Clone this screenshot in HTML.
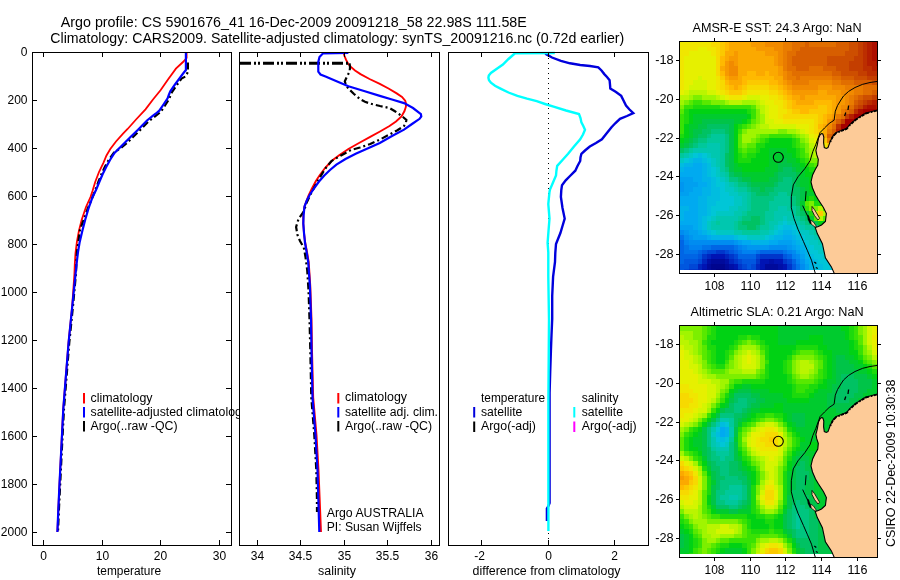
<!DOCTYPE html>
<html lang="en"><head><meta charset="utf-8"><title>Argo profile CS 5901676_41</title>
<style>
html,body{margin:0;padding:0;background:#fff;}
body{width:900px;height:580px;overflow:hidden;}
svg{display:block;font-family:"Liberation Sans", sans-serif;fill:#000;}
</style></head><body>
<svg width="900" height="580" viewBox="0 0 900 580">
<rect width="900" height="580" fill="#fff"/>
<text x="60.8" y="27" font-size="14.8" text-anchor="start" textLength="466" lengthAdjust="spacingAndGlyphs">Argo profile: CS 5901676_41 16-Dec-2009 20091218_58 22.98S 111.58E</text>
<text x="50.3" y="43" font-size="14.8" text-anchor="start" textLength="574" lengthAdjust="spacingAndGlyphs">Climatology: CARS2009. Satellite-adjusted climatology: synTS_20091216.nc (0.72d earlier)</text>
<rect x="32" y="52" width="199" height="493" fill="#fff" stroke="none"/>
<polyline points="186.6,52.0 186.6,58.0 183.0,62.0 175.9,68.6 168.0,79.5 160.7,90.0 153.0,99.5 145.5,109.3 136.5,119.0 127.6,129.0 122.8,133.8 116.0,141.5 110.3,149.0 106.5,155.5 103.4,162.8 99.0,172.0 95.2,182.0 92.5,191.0 90.5,197.0 86.0,207.0 81.7,219.8 78.9,231.0 76.9,241.9 75.5,253.0 74.8,264.0 74.4,274.3 72.2,306.0 68.5,342.5 65.6,378.7 63.2,409.0 61.3,447.0 59.5,484.0 58.4,508.0 57.4,532.0" fill="none" stroke="#f00" stroke-width="1.8"/>
<polyline points="187.9,62.4 187.9,72.0 185.5,76.5 181.5,78.5 176.5,85.5 171.8,92.4 170.3,96.0 169.0,99.3 165.0,105.5 160.8,111.7 157.5,114.5 153.9,117.2 148.5,121.5 139.5,130.7 132.5,137.5 127.0,143.0 121.0,148.0 114.0,152.5 109.0,159.5 105.0,166.5 101.5,174.0 98.5,181.5 95.5,189.5 92.6,197.0 88.0,208.0 84.0,219.0 80.0,229.5 78.5,241.0 77.0,252.0 76.5,261.2 75.9,274.3 73.0,306.0 69.3,342.5 66.4,378.7 64.0,409.0 62.0,447.0 60.2,484.0 59.0,508.0 58.0,532.0" fill="none" stroke="#000" stroke-width="2.2" stroke-dasharray="7 3 2 3"/>
<polyline points="185.9,52.0 185.9,70.0 183.5,73.0 180.0,77.6 175.0,84.5 170.3,91.4 168.8,95.0 167.6,98.3 163.5,104.5 159.3,110.7 156.0,113.5 152.4,116.2 147.0,120.5 138.0,129.7 131.0,136.5 125.5,142.0 120.0,147.5 114.5,153.0 110.0,160.0 106.2,167.0 102.5,174.5 99.3,182.0 96.0,190.0 92.6,197.0 88.5,208.5 85.2,219.8 82.3,231.0 79.7,241.9 78.0,252.0 76.9,261.2 75.5,274.3 72.3,306.0 68.6,342.5 65.7,378.7 63.3,409.0 61.4,447.0 59.5,484.0 58.4,508.0 57.4,532.0" fill="none" stroke="#00f" stroke-width="2.2"/>
<rect x="83" y="393" width="2" height="10.5" fill="#f00"/>
<rect x="83" y="407" width="2" height="10.5" fill="#00f"/>
<rect x="83" y="421" width="2" height="10.5" fill="#000"/>
<text x="90.5" y="401.5" font-size="12" text-anchor="start" textLength="62" lengthAdjust="spacingAndGlyphs">climatology</text>
<text x="90.5" y="416" font-size="12" text-anchor="start" textLength="157.5" lengthAdjust="spacingAndGlyphs">satellite-adjusted climatology</text>
<text x="90.5" y="430" font-size="12" text-anchor="start" textLength="87" lengthAdjust="spacingAndGlyphs">Argo(..raw -QC)</text>
<rect x="239" y="52" width="200" height="493" fill="#fff" stroke="none"/>
<polyline points="343.6,53.0 344.5,56.0 346.0,59.7 348.0,63.5 350.9,66.9 355.0,70.5 360.5,74.1 369.5,79.0 379.8,83.8 388.5,88.5 396.7,93.4 402.0,97.0 405.2,100.7 406.0,103.5 405.9,106.7 404.5,111.0 401.5,116.4 396.0,121.5 389.5,126.0 380.0,131.5 370.2,136.9 359.0,143.0 348.4,149.0 339.5,155.0 331.5,161.0 325.0,168.0 319.5,175.5 315.9,181.0 311.8,188.8 308.5,195.5 304.5,206.6 303.3,215.0 303.3,223.5 304.0,233.0 305.2,242.8 307.0,252.0 308.7,262.0 310.3,286.0 311.5,319.0 312.0,350.0 313.2,397.5 316.5,435.0 318.5,470.0 319.6,497.0 321.0,532.0" fill="none" stroke="#f00" stroke-width="1.9"/>
<polyline points="349.6,63.3 350.0,67.5 349.6,71.7 347.0,76.5 344.8,81.4 346.0,85.0 348.4,88.6 354.0,94.0 360.5,99.5 365.0,101.8 370.2,103.6 380.0,106.0 389.5,108.0 394.5,111.0 399.0,114.0 403.0,117.0 406.4,120.0 405.8,123.0 404.0,126.0 397.0,130.5 389.5,134.5 380.0,139.5 370.2,144.0 360.0,147.5 350.9,150.0 341.0,155.5 331.5,161.0 325.0,169.0 319.5,178.0 315.0,186.0 310.5,194.5 306.5,203.0 303.8,211.4 298.5,219.0 296.1,227.0 297.5,235.0 300.0,241.0 303.8,247.6 305.5,257.0 307.2,270.0 308.5,290.0 309.5,319.0 310.3,350.0 311.3,397.5 314.3,435.0 316.3,470.0 316.9,497.0 317.0,512.0" fill="none" stroke="#000" stroke-width="2.2" stroke-dasharray="7 3 2 3"/>
<path d="M240.0 63.3H349.6" fill="none" stroke="#000" stroke-width="3" stroke-dasharray="11 3 2 2 2 3"/>
<polyline points="348.4,53.0 323.1,53.3 319.5,57.0 318.3,62.0 318.3,71.7 320.5,74.5 325.5,76.5 336.0,81.0 348.4,86.2 364.0,91.0 379.8,95.9 392.0,99.5 404.0,103.1 413.0,108.0 420.9,114.0 421.3,116.5 419.6,118.8 412.0,124.0 404.0,129.6 392.0,136.0 379.8,142.9 367.5,148.5 355.7,153.8 345.5,159.0 336.4,164.6 330.0,170.0 324.3,175.5 319.0,181.5 314.6,187.6 309.9,194.5 306.8,200.5 304.5,206.6 303.6,215.0 303.3,223.5 304.0,233.0 305.0,242.8 306.6,252.0 308.2,262.0 309.9,286.0 311.0,319.0 311.5,350.0 312.5,397.5 315.5,435.0 317.5,470.0 318.3,497.0 319.3,532.0" fill="none" stroke="#00f" stroke-width="2.2"/>
<rect x="337.3" y="393" width="2" height="10.5" fill="#f00"/>
<rect x="337.3" y="407" width="2" height="10.5" fill="#00f"/>
<rect x="337.3" y="421" width="2" height="10.5" fill="#000"/>
<text x="345" y="401" font-size="12" text-anchor="start" textLength="62" lengthAdjust="spacingAndGlyphs">climatology</text>
<text x="345" y="415.6" font-size="12" text-anchor="start" textLength="93" lengthAdjust="spacingAndGlyphs">satellite adj. clim.</text>
<text x="345" y="429.5" font-size="12" text-anchor="start" textLength="87" lengthAdjust="spacingAndGlyphs">Argo(..raw -QC)</text>
<text x="326.7" y="516.5" font-size="12" text-anchor="start" textLength="97" lengthAdjust="spacingAndGlyphs">Argo AUSTRALIA</text>
<text x="326.7" y="530.5" font-size="12" text-anchor="start" textLength="95" lengthAdjust="spacingAndGlyphs">PI: Susan Wijffels</text>
<rect x="448" y="52" width="200" height="493" fill="#fff" stroke="none"/>
<path d="M548.3 53V545" fill="none" stroke="#000" stroke-width="1" stroke-dasharray="1 4" shape-rendering="crispEdges"/>
<polyline points="545.2,53.6 552.0,57.5 560.9,60.9 570.0,63.3 580.2,65.0 590.0,66.0 598.3,67.4 601.5,70.5 604.3,74.1 607.0,77.0 609.6,80.2 610.0,84.5 610.3,88.6 616.0,92.0 621.2,95.9 623.5,100.5 626.0,105.5 629.5,109.5 633.3,113.2 627.0,116.0 620.0,118.8 615.5,123.0 611.5,127.2 606.5,133.5 601.9,139.3 596.0,143.0 589.8,146.5 585.0,150.5 581.4,153.8 580.5,157.5 580.2,161.0 577.5,166.0 575.3,170.7 570.0,176.0 565.7,180.3 562.0,185.2 561.3,190.0 560.9,196.9 562.5,208.0 564.7,218.6 562.5,226.0 560.4,233.0 558.0,239.0 556.0,244.0 555.3,253.0 555.0,262.0 553.1,276.6 552.2,296.0 552.2,319.0 551.5,335.0 550.9,351.0 550.2,372.0 549.6,393.0 549.6,455.0 549.6,503.0 548.4,506.0 546.9,508.5 546.9,521.0" fill="none" stroke="#0000dc" stroke-width="2.4"/>
<polyline points="554.8,53.0 515.0,53.3 508.5,59.0 502.9,64.5 496.5,69.0 490.9,72.9 488.8,75.5 488.4,77.8 489.0,80.3 490.9,82.6 495.0,85.8 500.5,88.6 508.5,92.5 517.4,95.9 527.0,98.7 536.7,101.2 545.0,104.0 553.6,106.7 566.0,110.5 579.0,114.0 580.5,118.0 581.4,122.4 583.3,126.0 585.0,129.7 583.0,134.5 580.2,139.3 574.0,146.5 568.1,153.8 562.5,160.0 557.2,165.9 556.4,171.0 556.0,175.5 553.0,182.5 550.0,189.5 549.5,192.0 548.3,204.0 549.5,218.6 548.5,231.0 547.6,242.8 548.3,252.5 548.3,276.6 549.0,319.0 548.4,400.0 548.4,531.0" fill="none" stroke="#0ff" stroke-width="2.4"/>
<text x="481" y="401.5" font-size="12" text-anchor="start" textLength="64" lengthAdjust="spacingAndGlyphs">temperature</text>
<text x="481" y="415.6" font-size="12" text-anchor="start" textLength="41.3" lengthAdjust="spacingAndGlyphs">satellite</text>
<text x="481" y="429.8" font-size="12" text-anchor="start" textLength="55" lengthAdjust="spacingAndGlyphs">Argo(-adj)</text>
<text x="581.7" y="401.5" font-size="12" text-anchor="start" textLength="36.7" lengthAdjust="spacingAndGlyphs">salinity</text>
<text x="581.7" y="415.6" font-size="12" text-anchor="start" textLength="41.3" lengthAdjust="spacingAndGlyphs">satellite</text>
<text x="581.7" y="429.8" font-size="12" text-anchor="start" textLength="55" lengthAdjust="spacingAndGlyphs">Argo(-adj)</text>
<rect x="473.2" y="407" width="2" height="10.5" fill="#0000dc"/>
<rect x="473.2" y="421.5" width="2" height="10.5" fill="#000"/>
<rect x="573.3" y="407" width="2" height="10.5" fill="#0ff"/>
<rect x="573.3" y="421.5" width="2" height="10.5" fill="#f0f"/>
<rect x="32" y="52" width="200" height="1" fill="#000" shape-rendering="crispEdges"/>
<rect x="32" y="545" width="200" height="1" fill="#000" shape-rendering="crispEdges"/>
<rect x="32" y="52" width="1" height="494" fill="#000" shape-rendering="crispEdges"/>
<rect x="231" y="52" width="1" height="494" fill="#000" shape-rendering="crispEdges"/>
<rect x="239" y="52" width="201" height="1" fill="#000" shape-rendering="crispEdges"/>
<rect x="239" y="545" width="201" height="1" fill="#000" shape-rendering="crispEdges"/>
<rect x="239" y="52" width="1" height="494" fill="#000" shape-rendering="crispEdges"/>
<rect x="439" y="52" width="1" height="494" fill="#000" shape-rendering="crispEdges"/>
<rect x="448" y="52" width="201" height="1" fill="#000" shape-rendering="crispEdges"/>
<rect x="448" y="545" width="201" height="1" fill="#000" shape-rendering="crispEdges"/>
<rect x="448" y="52" width="1" height="494" fill="#000" shape-rendering="crispEdges"/>
<rect x="648" y="52" width="1" height="494" fill="#000" shape-rendering="crispEdges"/>
<rect x="43" y="540" width="1" height="5" fill="#000" shape-rendering="crispEdges"/>
<rect x="43" y="53" width="1" height="4" fill="#000" shape-rendering="crispEdges"/>
<text x="43.5" y="559.8" font-size="12" text-anchor="middle">0</text>
<rect x="102" y="540" width="1" height="5" fill="#000" shape-rendering="crispEdges"/>
<rect x="102" y="53" width="1" height="4" fill="#000" shape-rendering="crispEdges"/>
<text x="102.5" y="559.8" font-size="12" text-anchor="middle">10</text>
<rect x="160" y="540" width="1" height="5" fill="#000" shape-rendering="crispEdges"/>
<rect x="160" y="53" width="1" height="4" fill="#000" shape-rendering="crispEdges"/>
<text x="160.5" y="559.8" font-size="12" text-anchor="middle">20</text>
<rect x="219" y="540" width="1" height="5" fill="#000" shape-rendering="crispEdges"/>
<rect x="219" y="53" width="1" height="4" fill="#000" shape-rendering="crispEdges"/>
<text x="219.5" y="559.8" font-size="12" text-anchor="middle">30</text>
<text x="27.5" y="56.0" font-size="12" text-anchor="end">0</text>
<rect x="33" y="100" width="4" height="1" fill="#000" shape-rendering="crispEdges"/>
<rect x="226" y="100" width="5" height="1" fill="#000" shape-rendering="crispEdges"/>
<text x="27.5" y="104.0" font-size="12" text-anchor="end">200</text>
<rect x="33" y="148" width="4" height="1" fill="#000" shape-rendering="crispEdges"/>
<rect x="226" y="148" width="5" height="1" fill="#000" shape-rendering="crispEdges"/>
<text x="27.5" y="152.0" font-size="12" text-anchor="end">400</text>
<rect x="33" y="196" width="4" height="1" fill="#000" shape-rendering="crispEdges"/>
<rect x="226" y="196" width="5" height="1" fill="#000" shape-rendering="crispEdges"/>
<text x="27.5" y="200.0" font-size="12" text-anchor="end">600</text>
<rect x="33" y="244" width="4" height="1" fill="#000" shape-rendering="crispEdges"/>
<rect x="226" y="244" width="5" height="1" fill="#000" shape-rendering="crispEdges"/>
<text x="27.5" y="248.0" font-size="12" text-anchor="end">800</text>
<rect x="33" y="292" width="4" height="1" fill="#000" shape-rendering="crispEdges"/>
<rect x="226" y="292" width="5" height="1" fill="#000" shape-rendering="crispEdges"/>
<text x="27.5" y="296.0" font-size="12" text-anchor="end">1000</text>
<rect x="33" y="340" width="4" height="1" fill="#000" shape-rendering="crispEdges"/>
<rect x="226" y="340" width="5" height="1" fill="#000" shape-rendering="crispEdges"/>
<text x="27.5" y="344.0" font-size="12" text-anchor="end">1200</text>
<rect x="33" y="388" width="4" height="1" fill="#000" shape-rendering="crispEdges"/>
<rect x="226" y="388" width="5" height="1" fill="#000" shape-rendering="crispEdges"/>
<text x="27.5" y="392.0" font-size="12" text-anchor="end">1400</text>
<rect x="33" y="436" width="4" height="1" fill="#000" shape-rendering="crispEdges"/>
<rect x="226" y="436" width="5" height="1" fill="#000" shape-rendering="crispEdges"/>
<text x="27.5" y="440.0" font-size="12" text-anchor="end">1600</text>
<rect x="33" y="484" width="4" height="1" fill="#000" shape-rendering="crispEdges"/>
<rect x="226" y="484" width="5" height="1" fill="#000" shape-rendering="crispEdges"/>
<text x="27.5" y="488.0" font-size="12" text-anchor="end">1800</text>
<rect x="33" y="532" width="4" height="1" fill="#000" shape-rendering="crispEdges"/>
<rect x="226" y="532" width="5" height="1" fill="#000" shape-rendering="crispEdges"/>
<text x="27.5" y="536.0" font-size="12" text-anchor="end">2000</text>
<text x="129" y="574.5" font-size="12" text-anchor="middle" textLength="64" lengthAdjust="spacingAndGlyphs">temperature</text>
<rect x="257" y="540" width="1" height="5" fill="#000" shape-rendering="crispEdges"/>
<rect x="257" y="53" width="1" height="4" fill="#000" shape-rendering="crispEdges"/>
<text x="257.5" y="559.8" font-size="12" text-anchor="middle">34</text>
<rect x="300" y="540" width="1" height="5" fill="#000" shape-rendering="crispEdges"/>
<rect x="300" y="53" width="1" height="4" fill="#000" shape-rendering="crispEdges"/>
<text x="300.5" y="559.8" font-size="12" text-anchor="middle">34.5</text>
<rect x="344" y="540" width="1" height="5" fill="#000" shape-rendering="crispEdges"/>
<rect x="344" y="53" width="1" height="4" fill="#000" shape-rendering="crispEdges"/>
<text x="344.5" y="559.8" font-size="12" text-anchor="middle">35</text>
<rect x="387" y="540" width="1" height="5" fill="#000" shape-rendering="crispEdges"/>
<rect x="387" y="53" width="1" height="4" fill="#000" shape-rendering="crispEdges"/>
<text x="387.5" y="559.8" font-size="12" text-anchor="middle">35.5</text>
<rect x="431" y="540" width="1" height="5" fill="#000" shape-rendering="crispEdges"/>
<rect x="431" y="53" width="1" height="4" fill="#000" shape-rendering="crispEdges"/>
<text x="431.5" y="559.8" font-size="12" text-anchor="middle">36</text>
<text x="337" y="574.5" font-size="12" text-anchor="middle" textLength="38" lengthAdjust="spacingAndGlyphs">salinity</text>
<rect x="481" y="540" width="1" height="5" fill="#000" shape-rendering="crispEdges"/>
<rect x="481" y="53" width="1" height="4" fill="#000" shape-rendering="crispEdges"/>
<text x="479.5" y="559.8" font-size="12" text-anchor="middle">-2</text>
<rect x="548" y="540" width="1" height="5" fill="#000" shape-rendering="crispEdges"/>
<rect x="548" y="53" width="1" height="4" fill="#000" shape-rendering="crispEdges"/>
<text x="548.5" y="559.8" font-size="12" text-anchor="middle">0</text>
<rect x="614" y="540" width="1" height="5" fill="#000" shape-rendering="crispEdges"/>
<rect x="614" y="53" width="1" height="4" fill="#000" shape-rendering="crispEdges"/>
<text x="614.5" y="559.8" font-size="12" text-anchor="middle">2</text>
<text x="546.5" y="574.5" font-size="12" text-anchor="middle" textLength="148" lengthAdjust="spacingAndGlyphs">difference from climatology</text>
<g shape-rendering="crispEdges">
<rect x="679" y="41" width="199" height="233" fill="#fff"/>
<path fill="#f0e600" d="M680 42h31v5h-31zM680 47h18v4h-18zM707 47h9v4h-9zM680 51h9v5h-9zM711 51h5v5h-5zM680 56h4v5h-4zM680 61h4v5h-4zM680 66h4v5h-4zM680 71h4v5h-4zM680 76h4v4h-4zM716 76h4v4h-4zM680 80h4v5h-4zM716 80h4v5h-4zM680 85h4v5h-4zM716 85h4v5h-4zM720 90h5v5h-5zM747 90h22v5h-22zM729 95h13v5h-13zM769 95h9v5h-9zM774 100h9v5h-9zM778 105h5v4h-5zM778 109h9v5h-9zM778 114h5v5h-5zM783 119h31v5h-31zM809 124h5v5h-5zM809 129h5v5h-5zM814 134h4v4h-4zM818 138h5v5h-5zM823 143h4v5h-4z"/>
<path fill="#f7d900" d="M711 42h9v5h-9zM716 47h4v4h-4zM716 51h4v5h-4zM716 56h4v5h-4zM716 61h4v5h-4zM716 66h4v5h-4zM716 71h4v5h-4zM720 80h5v5h-5zM720 85h5v5h-5zM747 85h22v5h-22zM725 90h4v5h-4zM742 90h5v5h-5zM769 90h9v5h-9zM778 95h5v5h-5zM783 100h4v5h-4zM783 105h4v4h-4zM787 109h5v5h-5zM783 114h35v5h-35zM814 119h4v5h-4zM814 124h4v5h-4zM814 129h4v5h-4zM818 134h5v4h-5z"/>
<path fill="#fbc900" d="M720 42h5v5h-5zM720 47h5v4h-5zM720 51h5v5h-5zM720 76h5v4h-5zM747 80h22v5h-22zM725 85h4v5h-4zM742 85h5v5h-5zM769 85h9v5h-9zM729 90h13v5h-13zM778 90h5v5h-5zM783 95h4v5h-4zM787 100h5v5h-5zM787 105h5v4h-5zM818 105h9v4h-9zM792 109h8v5h-8zM809 109h18v5h-18zM818 114h5v5h-5zM818 119h5v5h-5zM818 129h5v5h-5zM823 138h4v5h-4zM827 143h14v5h-14zM818 211h5v5h-5z"/>
<path fill="#ffb900" d="M725 42h4v5h-4zM725 47h4v4h-4zM720 56h5v5h-5zM720 61h5v5h-5zM720 71h5v5h-5zM747 71h9v5h-9zM765 71h4v5h-4zM742 76h32v4h-32zM725 80h4v5h-4zM742 80h5v5h-5zM769 80h9v5h-9zM729 85h5v5h-5zM738 85h4v5h-4zM778 85h5v5h-5zM783 90h4v5h-4zM787 95h5v5h-5zM792 100h4v5h-4zM814 100h18v5h-18zM792 105h26v4h-26zM827 105h5v4h-5zM800 109h9v5h-9zM827 109h5v5h-5zM823 114h4v5h-4zM823 119h4v5h-4zM818 124h5v5h-5zM841 143h36v5h-36z"/>
<path fill="#fba900" d="M729 42h22v5h-22zM729 47h27v4h-27zM725 51h9v5h-9zM738 51h27v5h-27zM725 56h4v5h-4zM738 56h36v5h-36zM738 61h36v5h-36zM720 66h5v5h-5zM738 66h40v5h-40zM738 71h9v5h-9zM756 71h9v5h-9zM769 71h9v5h-9zM725 76h4v4h-4zM738 76h4v4h-4zM774 76h9v4h-9zM729 80h13v5h-13zM778 80h5v5h-5zM734 85h4v5h-4zM783 85h4v5h-4zM787 90h5v5h-5zM818 90h9v5h-9zM792 95h8v5h-8zM805 95h31v5h-31zM796 100h18v5h-18zM832 100h4v5h-4zM832 105h4v4h-4zM832 109h4v5h-4zM827 114h5v5h-5zM823 124h4v5h-4zM823 129h4v5h-4zM823 134h4v4h-4z"/>
<path fill="#f79900" d="M751 42h14v5h-14zM756 47h18v4h-18zM734 51h4v5h-4zM765 51h13v5h-13zM729 56h9v5h-9zM774 56h4v5h-4zM725 61h4v5h-4zM734 61h4v5h-4zM774 61h4v5h-4zM725 66h4v5h-4zM778 66h5v5h-5zM725 71h4v5h-4zM778 71h5v5h-5zM729 76h9v4h-9zM783 80h4v5h-4zM787 85h5v5h-5zM818 85h14v5h-14zM792 90h26v5h-26zM827 90h14v5h-14zM800 95h5v5h-5zM836 95h9v5h-9zM836 100h9v5h-9zM836 105h5v4h-5zM836 109h5v5h-5zM832 114h4v5h-4zM827 119h5v5h-5z"/>
<path fill="#f18a00" d="M765 42h18v5h-18zM774 47h9v4h-9zM778 51h5v5h-5zM778 56h5v5h-5zM729 61h5v5h-5zM778 61h5v5h-5zM729 66h9v5h-9zM729 71h9v5h-9zM783 71h4v5h-4zM783 76h4v4h-4zM787 80h5v5h-5zM809 80h23v5h-23zM792 85h26v5h-26zM832 85h13v5h-13zM841 90h13v5h-13zM845 95h4v5h-4zM845 100h4v5h-4zM841 105h8v4h-8zM827 124h5v5h-5z"/>
<path fill="#e97c00" d="M783 42h9v5h-9zM783 47h9v4h-9zM783 51h4v5h-4zM783 56h4v5h-4zM783 61h4v5h-4zM783 66h4v5h-4zM787 71h5v5h-5zM787 76h9v4h-9zM800 76h32v4h-32zM792 80h17v5h-17zM832 80h9v5h-9zM845 85h18v5h-18zM854 90h9v5h-9zM849 95h5v5h-5zM849 100h5v5h-5zM841 109h4v5h-4zM836 114h5v5h-5zM832 119h4v5h-4zM827 129h5v5h-5zM827 138h5v5h-5zM836 138h41v5h-41z"/>
<path fill="#e16e00" d="M792 42h13v5h-13zM809 42h27v5h-27zM792 47h8v4h-8zM787 51h9v5h-9zM787 56h5v5h-5zM787 61h5v5h-5zM787 66h9v5h-9zM809 66h14v5h-14zM792 71h40v5h-40zM796 76h4v4h-4zM832 76h9v4h-9zM841 80h13v5h-13zM863 85h14v5h-14zM863 90h9v5h-9zM854 95h4v5h-4zM849 105h5v4h-5zM845 109h4v5h-4zM841 114h4v5h-4zM832 124h4v5h-4zM832 138h4v5h-4z"/>
<path fill="#d75e00" d="M805 42h4v5h-4zM836 42h13v5h-13zM800 47h49v4h-49zM796 51h49v5h-49zM792 56h35v5h-35zM792 61h35v5h-35zM796 66h13v5h-13zM823 66h13v5h-13zM832 71h9v5h-9zM841 76h13v4h-13zM854 80h18v5h-18zM872 90h5v5h-5zM858 95h5v5h-5zM854 100h4v5h-4zM849 109h5v5h-5zM836 119h5v5h-5zM832 129h4v5h-4zM827 134h5v4h-5z"/>
<path fill="#cd4e00" d="M849 42h9v5h-9zM849 47h9v4h-9zM845 51h13v5h-13zM827 56h27v5h-27zM827 61h22v5h-22zM836 66h13v5h-13zM841 71h17v5h-17zM854 76h13v4h-13zM872 80h5v5h-5zM863 95h9v5h-9zM858 100h5v5h-5zM854 105h4v4h-4zM832 134h4v4h-4z"/>
<path fill="#c43e00" d="M858 42h5v5h-5zM858 47h5v4h-5zM858 51h5v5h-5zM854 56h9v5h-9zM849 61h14v5h-14zM849 66h14v5h-14zM858 71h9v5h-9zM867 76h10v4h-10zM872 95h5v5h-5zM863 100h4v5h-4zM858 105h5v4h-5zM845 114h4v5h-4zM841 119h4v5h-4zM836 134h5v4h-5zM849 134h28v4h-28z"/>
<path fill="#bc2e00" d="M863 42h4v5h-4zM863 47h4v4h-4zM863 51h4v5h-4zM863 56h4v5h-4zM863 61h4v5h-4zM863 66h9v5h-9zM867 71h10v5h-10zM867 100h5v5h-5zM854 109h4v5h-4zM836 124h5v5h-5zM841 134h8v4h-8z"/>
<path fill="#b41e00" d="M867 42h5v5h-5zM867 47h5v4h-5zM867 51h5v5h-5zM867 56h5v5h-5zM867 61h9v5h-9zM872 66h5v5h-5zM872 100h5v5h-5zM863 105h4v4h-4zM876 105h1v4h-1zM849 114h5v5h-5zM872 124h5v5h-5zM836 129h5v5h-5zM854 129h23v5h-23z"/>
<path fill="#ac0f00" d="M872 42h5v5h-5zM872 47h5v4h-5zM872 51h5v5h-5zM872 56h5v5h-5zM876 61h1v5h-1zM867 105h9v4h-9zM858 109h5v5h-5zM876 109h1v5h-1zM876 114h1v5h-1zM872 119h5v5h-5zM863 124h9v5h-9zM849 129h5v5h-5z"/>
<path fill="#e6f000" d="M698 47h9v4h-9zM689 51h22v5h-22zM684 56h32v5h-32zM684 61h32v5h-32zM684 66h32v5h-32zM684 71h32v5h-32zM684 76h14v4h-14zM702 76h14v4h-14zM684 80h9v5h-9zM707 80h9v5h-9zM684 85h5v5h-5zM707 85h9v5h-9zM680 90h4v5h-4zM716 90h4v5h-4zM725 95h4v5h-4zM742 95h5v5h-5zM760 95h9v5h-9zM765 100h9v5h-9zM769 105h9v4h-9zM769 109h9v5h-9zM769 114h9v5h-9zM774 119h9v5h-9zM796 124h13v5h-13zM805 129h4v5h-4zM809 134h5v4h-5zM814 138h4v5h-4zM818 143h5v5h-5zM827 148h50v5h-50z"/>
<path fill="#d4f500" d="M698 76h4v4h-4zM693 80h14v5h-14zM689 85h18v5h-18zM684 90h5v5h-5zM707 90h9v5h-9zM720 95h5v5h-5zM747 95h13v5h-13zM760 100h5v5h-5zM765 105h4v4h-4zM765 109h4v5h-4zM765 114h4v5h-4zM765 119h9v5h-9zM769 124h27v5h-27zM800 129h5v5h-5zM809 138h5v5h-5zM814 143h4v5h-4zM823 148h4v5h-4zM814 211h4v5h-4z"/>
<path fill="#baf500" d="M689 90h18v5h-18zM680 95h9v5h-9zM716 95h4v5h-4zM729 100h13v5h-13zM756 100h4v5h-4zM760 105h5v4h-5zM760 109h5v5h-5zM760 124h9v5h-9zM796 129h4v5h-4zM805 134h4v4h-4zM809 143h5v5h-5zM814 148h9v5h-9zM814 153h63v5h-63zM818 206h5v5h-5zM823 211h4v5h-4zM818 216h5v5h-5z"/>
<path fill="#a0f500" d="M689 95h4v5h-4zM702 95h14v5h-14zM680 100h4v5h-4zM725 100h4v5h-4zM742 100h14v5h-14zM756 105h4v4h-4zM760 114h5v5h-5zM760 119h5v5h-5zM756 124h4v5h-4zM747 129h31v5h-31zM787 129h9v5h-9zM742 134h14v4h-14zM800 134h5v4h-5zM742 138h9v5h-9zM805 138h4v5h-4zM809 148h5v5h-5zM809 153h5v5h-5z"/>
<path fill="#7cef00" d="M693 95h9v5h-9zM684 100h5v5h-5zM711 100h14v5h-14zM680 105h4v4h-4zM756 109h4v5h-4zM756 114h4v5h-4zM756 119h4v5h-4zM751 124h5v5h-5zM742 129h5v5h-5zM778 129h9v5h-9zM756 134h4v4h-4zM796 134h4v4h-4zM751 138h5v5h-5zM800 138h5v5h-5zM742 143h5v5h-5zM805 143h4v5h-4zM805 148h4v5h-4zM809 158h68v5h-68zM809 201h5v5h-5zM809 206h9v5h-9z"/>
<path fill="#58e900" d="M689 100h4v5h-4zM702 100h9v5h-9zM751 105h5v4h-5zM680 109h4v5h-4zM751 119h5v5h-5zM747 124h4v5h-4zM738 134h4v4h-4zM760 134h9v4h-9zM792 134h4v4h-4zM738 138h4v5h-4zM756 138h4v5h-4zM738 143h4v5h-4zM747 143h9v5h-9zM800 143h5v5h-5zM742 148h5v5h-5zM805 153h4v5h-4zM814 163h63v4h-63zM805 201h4v5h-4zM823 206h4v5h-4zM814 216h4v5h-4zM823 216h4v5h-4z"/>
<path fill="#38e204" d="M693 100h9v5h-9zM684 105h9v4h-9zM720 105h31v4h-31zM751 109h5v5h-5zM680 114h4v5h-4zM751 114h5v5h-5zM680 119h4v5h-4zM680 124h4v5h-4zM742 124h5v5h-5zM680 129h4v5h-4zM738 129h4v5h-4zM769 134h23v4h-23zM760 138h5v5h-5zM796 138h4v5h-4zM796 143h4v5h-4zM738 148h4v5h-4zM747 148h9v5h-9zM800 148h5v5h-5zM742 153h5v5h-5zM800 153h5v5h-5zM805 158h4v5h-4zM809 163h5v4h-5zM805 206h4v5h-4z"/>
<path fill="#1cda0c" d="M693 105h27v4h-27zM684 109h5v5h-5zM747 109h4v5h-4zM684 114h5v5h-5zM684 119h5v5h-5zM747 119h4v5h-4zM738 124h4v5h-4zM680 134h4v4h-4zM765 138h4v5h-4zM792 138h4v5h-4zM756 143h9v5h-9zM792 143h4v5h-4zM756 148h4v5h-4zM796 148h4v5h-4zM738 153h4v5h-4zM747 153h9v5h-9zM796 153h4v5h-4zM738 158h13v5h-13zM800 158h5v5h-5zM805 163h4v4h-4zM809 167h68v5h-68zM809 196h5v5h-5zM814 201h13v5h-13zM827 206h5v5h-5zM809 211h5v5h-5zM827 211h5v5h-5z"/>
<path fill="#00d214" d="M689 109h58v5h-58zM689 114h4v5h-4zM747 114h4v5h-4zM689 119h4v5h-4zM742 119h5v5h-5zM684 124h5v5h-5zM734 124h4v5h-4zM684 129h5v5h-5zM734 129h4v5h-4zM684 134h5v4h-5zM734 134h4v4h-4zM680 138h4v5h-4zM734 138h4v5h-4zM769 138h23v5h-23zM734 143h4v5h-4zM765 143h27v5h-27zM734 148h4v5h-4zM760 148h9v5h-9zM787 148h9v5h-9zM734 153h4v5h-4zM756 153h13v5h-13zM792 153h4v5h-4zM734 158h4v5h-4zM751 158h18v5h-18zM796 158h4v5h-4zM738 163h31v4h-31zM800 163h5v4h-5zM742 167h23v5h-23zM805 167h4v5h-4zM805 172h72v5h-72zM809 177h68v5h-68zM809 182h68v5h-68zM809 187h68v5h-68zM814 192h63v4h-63zM805 196h4v5h-4zM814 196h63v5h-63zM827 201h50v5h-50zM832 206h45v5h-45zM832 211h45v5h-45zM827 216h9v5h-9zM818 221h5v4h-5z"/>
<path fill="#a50000" d="M863 109h4v5h-4zM867 109h5v5h-5zM872 109h4v5h-4zM854 114h4v5h-4zM858 114h5v5h-5zM863 114h9v5h-9zM872 114h4v5h-4zM845 119h4v5h-4zM849 119h14v5h-14zM863 119h4v5h-4zM867 119h5v5h-5zM841 124h4v5h-4zM845 124h4v5h-4zM849 124h5v5h-5zM854 124h4v5h-4zM858 124h5v5h-5zM841 129h4v5h-4zM845 129h4v5h-4z"/>
<path fill="#00cb2e" d="M693 114h54v5h-54zM693 119h9v5h-9zM734 119h8v5h-8zM689 124h9v5h-9zM689 129h4v5h-4zM689 134h4v4h-4zM684 138h5v5h-5zM680 143h4v5h-4zM769 148h18v5h-18zM769 153h23v5h-23zM769 158h14v5h-14zM787 158h9v5h-9zM734 163h4v4h-4zM769 163h9v4h-9zM792 163h8v4h-8zM734 167h8v5h-8zM765 167h13v5h-13zM796 167h9v5h-9zM742 172h32v5h-32zM800 172h5v5h-5zM751 177h18v5h-18zM800 177h9v5h-9zM800 182h9v5h-9zM805 187h4v5h-4zM805 192h9v4h-9zM800 201h5v5h-5zM809 216h5v5h-5zM836 216h41v5h-41zM823 221h9v4h-9z"/>
<path fill="#00c448" d="M702 119h32v5h-32zM698 124h9v5h-9zM729 124h5v5h-5zM693 129h9v5h-9zM729 129h5v5h-5zM693 134h5v4h-5zM729 134h5v4h-5zM689 138h4v5h-4zM729 138h5v5h-5zM684 143h5v5h-5zM729 143h5v5h-5zM729 148h5v5h-5zM729 153h5v5h-5zM729 158h5v5h-5zM783 158h4v5h-4zM729 163h5v4h-5zM778 163h14v4h-14zM729 167h5v5h-5zM778 167h5v5h-5zM792 167h4v5h-4zM734 172h8v5h-8zM774 172h4v5h-4zM796 172h4v5h-4zM742 177h9v5h-9zM769 177h9v5h-9zM796 177h4v5h-4zM751 182h23v5h-23zM796 182h4v5h-4zM760 187h5v5h-5zM800 187h5v5h-5zM800 192h5v4h-5zM800 196h5v5h-5zM800 206h5v5h-5zM805 211h4v5h-4zM814 221h4v4h-4zM832 221h45v4h-45z"/>
<path fill="#00c263" d="M707 124h22v5h-22zM702 129h9v5h-9zM725 129h4v5h-4zM698 134h9v4h-9zM693 138h5v5h-5zM689 143h4v5h-4zM680 148h4v5h-4zM725 153h4v5h-4zM725 158h4v5h-4zM725 163h4v4h-4zM783 167h9v5h-9zM729 172h5v5h-5zM778 172h18v5h-18zM738 177h4v5h-4zM778 177h5v5h-5zM792 177h4v5h-4zM747 182h4v5h-4zM774 182h4v5h-4zM792 182h4v5h-4zM751 187h9v5h-9zM765 187h9v5h-9zM792 187h8v5h-8zM756 192h13v4h-13zM792 192h8v4h-8zM796 196h4v5h-4zM796 201h4v5h-4zM800 211h5v5h-5zM751 216h9v5h-9zM805 216h4v5h-4zM742 221h18v4h-18zM809 221h5v4h-5zM747 225h9v5h-9zM818 225h59v5h-59z"/>
<path fill="#00c57f" d="M711 129h14v5h-14zM707 134h4v4h-4zM725 134h4v4h-4zM698 138h9v5h-9zM725 138h4v5h-4zM693 143h5v5h-5zM725 143h4v5h-4zM684 148h5v5h-5zM725 148h4v5h-4zM725 167h4v5h-4zM729 177h9v5h-9zM783 177h9v5h-9zM738 182h9v5h-9zM778 182h14v5h-14zM747 187h4v5h-4zM774 187h18v5h-18zM751 192h5v4h-5zM769 192h9v4h-9zM787 192h5v4h-5zM751 196h23v5h-23zM792 196h4v5h-4zM751 201h18v5h-18zM792 201h4v5h-4zM751 206h18v5h-18zM796 206h4v5h-4zM747 211h18v5h-18zM796 211h4v5h-4zM742 216h9v5h-9zM760 216h5v5h-5zM800 216h5v5h-5zM738 221h4v4h-4zM760 221h5v4h-5zM805 221h4v4h-4zM738 225h9v5h-9zM756 225h4v5h-4zM814 225h4v5h-4zM823 230h54v5h-54z"/>
<path fill="#00c89b" d="M711 134h14v4h-14zM707 138h18v5h-18zM698 143h9v5h-9zM720 143h5v5h-5zM689 148h4v5h-4zM720 148h5v5h-5zM680 153h4v5h-4zM720 153h5v5h-5zM720 158h5v5h-5zM720 163h5v4h-5zM720 167h5v5h-5zM725 172h4v5h-4zM734 182h4v5h-4zM738 187h9v5h-9zM747 192h4v4h-4zM778 192h9v4h-9zM747 196h4v5h-4zM774 196h18v5h-18zM747 201h4v5h-4zM769 201h23v5h-23zM747 206h4v5h-4zM769 206h9v5h-9zM787 206h9v5h-9zM742 211h5v5h-5zM765 211h9v5h-9zM792 211h4v5h-4zM738 216h4v5h-4zM765 216h9v5h-9zM796 216h4v5h-4zM716 221h4v4h-4zM734 221h4v4h-4zM765 221h4v4h-4zM800 221h5v4h-5zM734 225h4v5h-4zM760 225h9v5h-9zM805 225h9v5h-9zM742 230h18v5h-18zM814 230h9v5h-9zM818 235h59v5h-59z"/>
<path fill="#00c7af" d="M707 143h13v5h-13zM693 148h27v5h-27zM684 153h5v5h-5zM711 153h9v5h-9zM716 158h4v5h-4zM716 163h4v4h-4zM720 172h5v5h-5zM725 177h4v5h-4zM729 182h5v5h-5zM734 187h4v5h-4zM738 192h9v4h-9zM742 196h5v5h-5zM742 201h5v5h-5zM738 206h9v5h-9zM778 206h9v5h-9zM734 211h8v5h-8zM774 211h18v5h-18zM716 216h22v5h-22zM774 216h9v5h-9zM787 216h9v5h-9zM711 221h5v4h-5zM720 221h14v4h-14zM769 221h9v4h-9zM796 221h4v4h-4zM711 225h23v5h-23zM769 225h5v5h-5zM800 225h5v5h-5zM734 230h8v5h-8zM760 230h9v5h-9zM809 230h5v5h-5zM814 235h4v5h-4zM818 240h59v5h-59zM823 245h54v5h-54z"/>
<path fill="#00c7c3" d="M689 153h4v5h-4zM707 153h4v5h-4zM680 158h4v5h-4zM711 158h5v5h-5zM711 163h5v4h-5zM716 167h4v5h-4zM716 172h4v5h-4zM720 177h5v5h-5zM725 182h4v5h-4zM725 187h9v5h-9zM729 192h9v4h-9zM734 196h8v5h-8zM734 201h8v5h-8zM729 206h9v5h-9zM716 211h18v5h-18zM711 216h5v5h-5zM783 216h4v5h-4zM707 221h4v4h-4zM778 221h5v4h-5zM787 221h9v4h-9zM707 225h4v5h-4zM774 225h4v5h-4zM796 225h4v5h-4zM716 230h18v5h-18zM769 230h5v5h-5zM800 230h9v5h-9zM747 235h18v5h-18zM805 235h9v5h-9zM809 240h9v5h-9zM814 245h9v5h-9zM818 250h59v4h-59zM823 254h54v5h-54z"/>
<path fill="#00c6d7" d="M693 153h5v5h-5zM702 153h5v5h-5zM684 158h5v5h-5zM707 158h4v5h-4zM711 167h5v5h-5zM711 172h5v5h-5zM716 177h4v5h-4zM716 182h9v5h-9zM720 187h5v5h-5zM720 192h9v4h-9zM720 196h14v5h-14zM716 201h18v5h-18zM711 206h18v5h-18zM711 211h5v5h-5zM707 216h4v5h-4zM783 221h4v4h-4zM778 225h5v5h-5zM792 225h4v5h-4zM711 230h5v5h-5zM774 230h4v5h-4zM796 230h4v5h-4zM738 235h9v5h-9zM765 235h4v5h-4zM800 235h5v5h-5zM805 240h4v5h-4zM809 245h5v5h-5zM809 250h9v4h-9zM814 254h9v5h-9zM818 259h59v5h-59zM823 264h54v5h-54zM823 269h54v1h-54z"/>
<path fill="#00bddf" d="M698 153h4v5h-4zM689 158h4v5h-4zM702 158h5v5h-5zM680 163h4v4h-4zM707 163h4v4h-4zM707 167h4v5h-4zM707 172h4v5h-4zM711 177h5v5h-5zM711 182h5v5h-5zM711 187h9v5h-9zM711 192h9v4h-9zM707 196h13v5h-13zM707 201h9v5h-9zM707 206h4v5h-4zM707 211h4v5h-4zM702 216h5v5h-5zM702 221h5v4h-5zM702 225h5v5h-5zM783 225h9v5h-9zM707 230h4v5h-4zM778 230h5v5h-5zM792 230h4v5h-4zM734 235h4v5h-4zM769 235h5v5h-5zM796 235h4v5h-4zM800 240h5v5h-5zM805 245h4v5h-4zM809 254h5v5h-5zM814 259h4v5h-4zM814 264h9v5h-9zM814 269h9v1h-9z"/>
<path fill="#00b3e8" d="M693 158h9v5h-9zM684 163h9v4h-9zM702 163h5v4h-5zM680 167h4v5h-4zM702 167h5v5h-5zM702 172h5v5h-5zM702 177h9v5h-9zM707 182h4v5h-4zM702 187h9v5h-9zM702 192h9v4h-9zM698 196h9v5h-9zM698 201h9v5h-9zM680 206h9v5h-9zM698 206h9v5h-9zM680 211h4v5h-4zM698 211h9v5h-9zM680 216h4v5h-4zM698 216h4v5h-4zM698 221h4v4h-4zM698 225h4v5h-4zM702 230h5v5h-5zM783 230h9v5h-9zM711 235h23v5h-23zM774 235h9v5h-9zM792 235h4v5h-4zM751 240h18v5h-18zM796 240h4v5h-4zM800 245h5v5h-5zM805 250h4v4h-4zM805 254h4v5h-4zM809 259h5v5h-5zM809 264h5v5h-5zM809 269h5v1h-5z"/>
<path fill="#00aaf0" d="M693 163h9v4h-9zM684 167h18v5h-18zM680 172h22v5h-22zM693 177h9v5h-9zM698 182h9v5h-9zM693 187h9v5h-9zM689 192h13v4h-13zM680 196h18v5h-18zM680 201h18v5h-18zM689 206h9v5h-9zM684 211h14v5h-14zM684 216h14v5h-14zM680 221h18v4h-18zM693 225h5v5h-5zM698 230h4v5h-4zM707 235h4v5h-4zM783 235h9v5h-9zM742 240h9v5h-9zM769 240h9v5h-9zM792 240h4v5h-4zM796 245h4v5h-4zM800 250h5v4h-5zM805 259h4v5h-4z"/>
<path fill="#00a0f0" d="M680 177h13v5h-13zM684 182h14v5h-14zM684 187h9v5h-9zM680 192h9v4h-9zM680 225h13v5h-13zM689 230h9v5h-9zM693 235h14v5h-14zM738 240h4v5h-4zM778 240h14v5h-14zM792 245h4v5h-4zM796 250h4v4h-4zM800 254h5v5h-5zM805 264h4v5h-4zM805 269h4v1h-4z"/>
<path fill="#0096f0" d="M680 182h4v5h-4zM680 187h4v5h-4zM684 230h5v5h-5zM689 235h4v5h-4zM734 240h4v5h-4zM747 245h22v5h-22zM787 245h5v5h-5zM800 259h5v5h-5z"/>
<path fill="#008cf0" d="M680 230h4v5h-4zM684 235h5v5h-5zM689 240h45v5h-45zM742 245h5v5h-5zM769 245h18v5h-18zM792 250h4v4h-4zM796 254h4v5h-4zM800 264h5v5h-5zM800 269h5v1h-5z"/>
<path fill="#0074ea" d="M680 235h4v5h-4zM684 245h5v5h-5zM702 245h9v5h-9zM734 245h4v5h-4zM684 250h14v4h-14zM738 250h4v4h-4zM756 250h4v4h-4zM783 250h4v4h-4zM796 264h4v5h-4zM796 269h4v1h-4z"/>
<path fill="#0065e5" d="M680 240h4v5h-4zM680 245h4v5h-4zM711 245h23v5h-23zM680 250h4v4h-4zM698 250h4v4h-4zM734 250h4v4h-4zM760 250h23v4h-23zM680 254h18v5h-18zM738 254h18v5h-18zM787 254h5v5h-5zM680 259h4v5h-4zM792 259h4v5h-4z"/>
<path fill="#0082f0" d="M684 240h5v5h-5zM689 245h13v5h-13zM738 245h4v5h-4zM742 250h14v4h-14zM787 250h5v4h-5zM792 254h4v5h-4zM796 259h4v5h-4z"/>
<path fill="#0057df" d="M702 250h5v4h-5zM729 250h5v4h-5zM698 254h4v5h-4zM783 254h4v5h-4zM684 259h14v5h-14zM742 259h14v5h-14zM680 264h9v5h-9zM747 264h4v5h-4zM792 264h4v5h-4zM680 269h4v1h-4zM792 269h4v1h-4z"/>
<path fill="#0047d6" d="M707 250h9v4h-9zM725 250h4v4h-4zM734 254h4v5h-4zM756 254h4v5h-4zM698 259h4v5h-4zM738 259h4v5h-4zM787 259h5v5h-5zM689 264h9v5h-9zM742 264h5v5h-5zM751 264h5v5h-5zM684 269h5v1h-5zM747 269h9v1h-9z"/>
<path fill="#0036cb" d="M716 250h9v4h-9zM702 254h5v5h-5zM729 254h5v5h-5zM760 254h23v5h-23zM734 259h4v5h-4zM756 259h4v5h-4zM783 259h4v5h-4zM738 264h4v5h-4zM787 264h5v5h-5zM689 269h9v1h-9zM742 269h5v1h-5zM787 269h5v1h-5z"/>
<path fill="#0025bf" d="M707 254h4v5h-4zM725 254h4v5h-4zM702 259h5v5h-5zM729 259h5v5h-5zM698 264h4v5h-4zM756 264h4v5h-4zM698 269h4v1h-4zM738 269h4v1h-4zM756 269h4v1h-4z"/>
<path fill="#0014b4" d="M711 254h14v5h-14zM760 259h9v5h-9zM774 259h9v5h-9zM702 264h5v5h-5zM734 264h4v5h-4zM760 264h5v5h-5zM783 264h4v5h-4zM783 269h4v1h-4z"/>
<path fill="#000fa8" d="M707 259h4v5h-4zM725 259h4v5h-4zM769 259h5v5h-5zM729 264h5v5h-5zM778 264h5v5h-5zM702 269h5v1h-5zM734 269h4v1h-4zM760 269h5v1h-5zM778 269h5v1h-5z"/>
<path fill="#000a9b" d="M711 259h14v5h-14zM707 264h4v5h-4zM725 264h4v5h-4zM765 264h13v5h-13zM707 269h4v1h-4zM729 269h5v1h-5zM765 269h13v1h-13z"/>
<path fill="#00058e" d="M711 264h14v5h-14zM711 269h5v1h-5zM725 269h4v1h-4z"/>
<path fill="#000082" d="M716 269h9v1h-9z"/>
</g>
<polygon points="878.0,110.0 876.7,110.3 871.1,111.7 865.5,113.2 861.1,116.0 855.4,119.6 849.8,124.7 846.5,128.6 842.0,130.3 836.4,132.5 833.0,135.9 830.2,141.5 828.0,147.6 826.3,148.4 824.3,147.6 823.6,142.6 823.8,137.0 822.9,134.2 821.8,133.4 820.1,134.8 818.5,138.1 817.3,144.8 815.9,150.4 816.8,154.9 818.3,159.4 817.8,165.0 815.0,170.0 812.6,175.0 811.0,182.0 812.5,188.0 815.5,195.0 818.5,200.0 823.4,207.4 826.4,213.5 825.4,221.5 821.5,225.0 818.3,226.6 815.3,227.6 817.3,233.6 822.4,243.7 825.4,257.8 831.4,266.9 834.5,274.0 877.5,273.5 877.5,110.0" fill="#fdcb98" stroke="none"/>
<polyline points="878.0,110.0 876.7,110.3 871.1,111.7 865.5,113.2 861.1,116.0 855.4,119.6 849.8,124.7 846.5,128.6 842.0,130.3 836.4,132.5 833.0,135.9 830.2,141.5 828.0,147.6 826.3,148.4 824.3,147.6 823.6,142.6 823.8,137.0 822.9,134.2 821.8,133.4 820.1,134.8 818.5,138.1 817.3,144.8 815.9,150.4 816.8,154.9 818.3,159.4 817.8,165.0 815.0,170.0 812.6,175.0 811.0,182.0 812.5,188.0 815.5,195.0 818.5,200.0 823.4,207.4 826.4,213.5 825.4,221.5 821.5,225.0 818.3,226.6 815.3,227.6 817.3,233.6 822.4,243.7 825.4,257.8 831.4,266.9 834.5,274.0" fill="none" stroke="#000" stroke-width="1.1"/>
<polyline points="878.0,81.3 870.0,82.5 862.7,84.3 855.0,87.5 848.6,91.4 843.5,96.0 840.9,100.0 837.5,105.6 835.3,111.2 834.1,120.2 829.1,123.5 824.5,128.0 820.1,132.5 818.5,137.0 815.7,144.8 812.8,151.6 810.1,160.7 804.8,168.7 798.0,176.8 793.3,184.9 791.3,196.8 791.3,207.8 794.0,218.5 798.0,229.3 803.4,241.4 807.5,250.8 811.5,260.2 814.2,269.6 815.5,274.0" fill="none" stroke="#000" stroke-width="1"/>
<polyline points="876.7,110.7 871.1,112.1 865.5,113.6 861.1,116.4 855.4,120.0 849.8,125.1 846.5,129.0 842.0,130.7 836.4,132.9 833.0,136.3 830.2,141.9" fill="none" stroke="#000" stroke-width="1.9" stroke-dasharray="3 1.5 1.5 2 4 1"/>
<path d="M810.5 220l3 2 3 4.5-1.5.5-4-3z" fill="#fdcb98" stroke="#000" stroke-width="0.7"/>
<path d="M807 214.5l1.8 1 2.6 8-1.4.6-2.2-4.5z" fill="#000"/>
<path d="M812 206.4l2.6 3.4 2.5 4.2 2.5 4.2-1.6 1.8-3.4-4.3-2.6-5.1z" fill="#fdcb98" stroke="#000" stroke-width="0.8"/>
<path d="M806.1 191.2l-.8 10M802.7 205.6l2.5 5.5 2.6 5.4" stroke="#000" stroke-width="1" fill="none"/>
<path d="M848.6 105.5l-.6 4.5M845.8 112.5l-1.2 3.5M814.3 262l2 1.5M815.8 267.5l2 1" stroke="#000" stroke-width="1.3" fill="none"/>
<circle cx="778.3" cy="157.3" r="5" fill="none" stroke="#000" stroke-width="1.1"/>
<text x="714.5" y="289.6" font-size="12" text-anchor="middle" textLength="20" lengthAdjust="spacingAndGlyphs">108</text>
<text x="750.5" y="289.6" font-size="12" text-anchor="middle" textLength="20" lengthAdjust="spacingAndGlyphs">110</text>
<text x="785.5" y="289.6" font-size="12" text-anchor="middle" textLength="20" lengthAdjust="spacingAndGlyphs">112</text>
<text x="821.5" y="289.6" font-size="12" text-anchor="middle" textLength="20" lengthAdjust="spacingAndGlyphs">114</text>
<text x="857.5" y="289.6" font-size="12" text-anchor="middle" textLength="20" lengthAdjust="spacingAndGlyphs">116</text>
<text x="673.5" y="63.8" font-size="12" text-anchor="end" textLength="18.3" lengthAdjust="spacingAndGlyphs">-18</text>
<text x="673.5" y="102.8" font-size="12" text-anchor="end" textLength="18.3" lengthAdjust="spacingAndGlyphs">-20</text>
<text x="673.5" y="141.8" font-size="12" text-anchor="end" textLength="18.3" lengthAdjust="spacingAndGlyphs">-22</text>
<text x="673.5" y="179.8" font-size="12" text-anchor="end" textLength="18.3" lengthAdjust="spacingAndGlyphs">-24</text>
<text x="673.5" y="218.8" font-size="12" text-anchor="end" textLength="18.3" lengthAdjust="spacingAndGlyphs">-26</text>
<text x="673.5" y="257.8" font-size="12" text-anchor="end" textLength="18.3" lengthAdjust="spacingAndGlyphs">-28</text>
<path d="M679 41h199v1h-199zM679 273h199v1h-199zM679 41h1v233h-1zM877 41h1v233h-1zM714 38h1v3h-1zM714 274h1v3h-1zM750 38h1v3h-1zM750 274h1v3h-1zM785 38h1v3h-1zM785 274h1v3h-1zM821 38h1v3h-1zM821 274h1v3h-1zM857 38h1v3h-1zM857 274h1v3h-1zM676 60h3v1h-3zM878 60h3v1h-3zM676 99h3v1h-3zM878 99h3v1h-3zM676 138h3v1h-3zM878 138h3v1h-3zM676 176h3v1h-3zM878 176h3v1h-3zM676 215h3v1h-3zM878 215h3v1h-3zM676 254h3v1h-3zM878 254h3v1h-3z" fill="#000" stroke="none" shape-rendering="crispEdges"/>
<g shape-rendering="crispEdges">
<rect x="679" y="325" width="199" height="233" fill="#fff"/>
<path fill="#7cef00" d="M680 326h22v5h-22zM858 326h5v5h-5zM693 331h9v4h-9zM858 331h5v4h-5zM693 335h9v5h-9zM698 340h4v5h-4zM747 340h4v5h-4zM698 345h4v5h-4zM738 345h4v5h-4zM756 345h4v5h-4zM863 345h4v5h-4zM698 350h4v5h-4zM734 350h4v5h-4zM863 350h4v5h-4zM760 355h5v5h-5zM796 355h18v5h-18zM867 355h5v5h-5zM702 360h5v4h-5zM729 360h5v4h-5zM760 360h5v4h-5zM792 360h4v4h-4zM814 360h4v4h-4zM872 360h4v4h-4zM702 364h5v5h-5zM729 364h5v5h-5zM760 364h5v5h-5zM792 364h4v5h-4zM814 364h4v5h-4zM707 369h4v5h-4zM725 369h4v5h-4zM756 369h4v5h-4zM792 369h4v5h-4zM814 369h4v5h-4zM716 374h40v5h-40zM796 374h4v5h-4zM809 374h5v5h-5zM725 384h4v5h-4zM720 389h5v4h-5zM716 398h4v5h-4zM711 403h5v5h-5zM698 418h4v4h-4zM765 418h9v4h-9zM693 422h5v5h-5zM778 422h5v5h-5zM684 427h5v5h-5zM747 427h4v5h-4zM783 427h4v5h-4zM680 432h4v5h-4zM742 432h5v5h-5zM787 437h5v5h-5zM742 442h5v5h-5zM787 442h5v5h-5zM747 451h4v5h-4zM783 451h4v5h-4zM689 456h4v5h-4zM751 456h5v5h-5zM756 461h4v5h-4zM778 466h5v5h-5zM760 471h5v5h-5zM778 471h5v5h-5zM702 476h5v4h-5zM760 476h5v4h-5zM778 476h5v4h-5zM702 480h5v5h-5zM778 480h5v5h-5zM702 485h5v5h-5zM756 485h4v5h-4zM756 490h4v5h-4zM756 500h4v5h-4zM778 500h5v5h-5zM680 509h4v5h-4zM760 509h5v5h-5zM774 509h4v5h-4zM684 514h5v5h-5zM702 514h5v5h-5zM689 519h4v5h-4zM707 519h31v5h-31zM693 524h5v5h-5zM698 529h4v5h-4zM734 534h8v4h-8zM702 538h5v5h-5zM716 538h4v5h-4zM756 538h4v5h-4zM702 543h9v5h-9zM702 548h5v5h-5zM751 548h5v5h-5zM787 548h5v5h-5zM702 553h5v1h-5zM751 553h5v1h-5z"/>
<path fill="#58e900" d="M702 326h5v5h-5zM702 331h5v4h-5zM702 335h5v5h-5zM858 335h5v5h-5zM742 340h5v5h-5zM751 340h5v5h-5zM858 340h5v5h-5zM702 345h5v5h-5zM702 350h5v5h-5zM760 350h5v5h-5zM800 350h14v5h-14zM702 355h5v5h-5zM729 355h5v5h-5zM792 355h4v5h-4zM814 355h4v5h-4zM863 355h4v5h-4zM818 360h5v4h-5zM867 360h5v4h-5zM707 364h4v5h-4zM725 364h4v5h-4zM818 364h5v5h-5zM872 364h5v5h-5zM711 369h14v5h-14zM760 369h5v5h-5zM756 374h4v5h-4zM792 374h4v5h-4zM814 374h4v5h-4zM729 379h5v5h-5zM796 379h18v5h-18zM725 389h4v4h-4zM720 393h5v5h-5zM760 418h5v4h-5zM774 418h4v4h-4zM751 422h5v5h-5zM742 427h5v5h-5zM787 432h5v5h-5zM680 437h4v5h-4zM680 442h4v5h-4zM680 447h4v4h-4zM742 447h5v4h-5zM787 447h5v4h-5zM684 451h5v5h-5zM783 456h4v5h-4zM751 461h5v5h-5zM783 461h4v5h-4zM756 466h4v5h-4zM702 471h5v5h-5zM702 490h5v5h-5zM702 495h5v5h-5zM702 500h5v5h-5zM702 505h5v4h-5zM756 505h4v4h-4zM778 505h5v4h-5zM702 509h5v5h-5zM707 514h4v5h-4zM738 519h4v5h-4zM742 524h5v5h-5zM693 529h5v5h-5zM742 529h5v5h-5zM698 534h4v4h-4zM742 534h5v4h-5zM760 534h18v4h-18zM720 538h9v5h-9zM783 538h4v5h-4zM711 543h5v5h-5zM751 543h5v5h-5zM787 543h5v5h-5zM698 548h4v5h-4zM707 548h4v5h-4zM698 553h4v1h-4zM707 553h4v1h-4z"/>
<path fill="#38e204" d="M707 326h4v5h-4zM854 326h4v5h-4zM707 331h4v4h-4zM854 331h4v4h-4zM747 335h4v5h-4zM854 335h4v5h-4zM702 340h5v5h-5zM738 340h4v5h-4zM756 340h4v5h-4zM734 345h4v5h-4zM760 345h5v5h-5zM858 345h5v5h-5zM707 350h4v5h-4zM729 350h5v5h-5zM796 350h4v5h-4zM814 350h4v5h-4zM858 350h5v5h-5zM707 355h4v5h-4zM818 355h5v5h-5zM707 360h4v4h-4zM725 360h4v4h-4zM765 360h4v4h-4zM787 360h5v4h-5zM863 360h4v4h-4zM711 364h5v5h-5zM787 364h5v5h-5zM787 369h5v5h-5zM818 369h5v5h-5zM760 374h5v5h-5zM818 374h5v5h-5zM734 379h8v5h-8zM792 379h4v5h-4zM814 379h4v5h-4zM729 384h5v5h-5zM796 384h13v5h-13zM796 389h9v4h-9zM720 398h5v5h-5zM716 403h4v5h-4zM711 408h5v5h-5zM707 413h4v5h-4zM765 413h9v5h-9zM702 418h5v4h-5zM756 418h4v4h-4zM778 418h5v4h-5zM698 422h4v5h-4zM747 422h4v5h-4zM783 422h4v5h-4zM689 427h4v5h-4zM684 432h5v5h-5zM738 432h4v5h-4zM738 437h4v5h-4zM792 437h4v5h-4zM738 442h4v5h-4zM792 442h4v5h-4zM689 451h4v5h-4zM742 451h5v5h-5zM787 451h5v5h-5zM693 456h5v5h-5zM747 456h4v5h-4zM698 461h4v5h-4zM783 466h4v5h-4zM756 471h4v5h-4zM756 476h4v4h-4zM756 480h4v5h-4zM707 509h4v5h-4zM756 509h4v5h-4zM778 509h5v5h-5zM680 514h4v5h-4zM711 514h9v5h-9zM765 514h9v5h-9zM684 519h5v5h-5zM742 519h5v5h-5zM689 524h4v5h-4zM747 529h4v5h-4zM769 529h5v5h-5zM693 534h5v4h-5zM747 534h13v4h-13zM778 534h5v4h-5zM698 538h4v5h-4zM729 538h27v5h-27zM698 543h4v5h-4zM716 543h4v5h-4zM747 543h4v5h-4zM693 548h5v5h-5zM711 548h5v5h-5zM747 548h4v5h-4zM693 553h5v1h-5zM711 553h5v1h-5zM747 553h4v1h-4zM792 553h4v1h-4z"/>
<path fill="#1cda0c" d="M711 326h5v5h-5zM849 326h5v5h-5zM711 331h5v4h-5zM849 331h5v4h-5zM707 335h9v5h-9zM738 335h9v5h-9zM751 335h9v5h-9zM849 335h5v5h-5zM707 340h4v5h-4zM734 340h4v5h-4zM760 340h5v5h-5zM854 340h4v5h-4zM707 345h9v5h-9zM729 345h5v5h-5zM765 345h4v5h-4zM796 345h22v5h-22zM854 345h4v5h-4zM711 350h5v5h-5zM725 350h4v5h-4zM765 350h4v5h-4zM792 350h4v5h-4zM818 350h5v5h-5zM711 355h5v5h-5zM725 355h4v5h-4zM765 355h4v5h-4zM787 355h5v5h-5zM823 355h4v5h-4zM858 355h5v5h-5zM711 360h5v4h-5zM783 360h4v4h-4zM823 360h4v4h-4zM716 364h9v5h-9zM765 364h4v5h-4zM783 364h4v5h-4zM823 364h4v5h-4zM867 364h5v5h-5zM765 369h4v5h-4zM783 369h4v5h-4zM823 369h4v5h-4zM872 369h5v5h-5zM765 374h4v5h-4zM787 374h5v5h-5zM823 374h4v5h-4zM742 379h23v5h-23zM787 379h5v5h-5zM818 379h5v5h-5zM792 384h4v5h-4zM809 384h9v5h-9zM792 389h4v4h-4zM805 389h9v4h-9zM725 393h4v5h-4zM792 393h17v5h-17zM756 413h9v5h-9zM774 413h9v5h-9zM751 418h5v4h-5zM742 422h5v5h-5zM693 427h5v5h-5zM738 427h4v5h-4zM787 427h5v5h-5zM689 432h4v5h-4zM792 432h4v5h-4zM684 437h5v5h-5zM796 437h4v5h-4zM684 442h5v5h-5zM796 442h4v5h-4zM684 447h5v4h-5zM738 447h4v4h-4zM792 447h4v4h-4zM693 451h5v5h-5zM698 456h4v5h-4zM742 456h5v5h-5zM787 456h5v5h-5zM747 461h4v5h-4zM702 466h5v5h-5zM751 466h5v5h-5zM783 471h4v5h-4zM707 476h4v4h-4zM783 476h4v4h-4zM707 480h4v5h-4zM783 480h4v5h-4zM707 485h4v5h-4zM751 485h5v5h-5zM783 485h4v5h-4zM707 490h4v5h-4zM751 490h5v5h-5zM783 490h4v5h-4zM751 495h5v5h-5zM783 495h4v5h-4zM751 500h5v5h-5zM783 500h4v5h-4zM707 505h4v4h-4zM751 505h5v4h-5zM751 509h5v5h-5zM720 514h27v5h-27zM756 514h9v5h-9zM774 514h4v5h-4zM680 519h4v5h-4zM747 519h4v5h-4zM765 519h9v5h-9zM684 524h5v5h-5zM747 524h4v5h-4zM769 524h5v5h-5zM689 529h4v5h-4zM751 529h18v5h-18zM774 529h9v5h-9zM783 534h4v4h-4zM693 538h5v5h-5zM787 538h5v5h-5zM693 543h5v5h-5zM720 543h9v5h-9zM742 543h5v5h-5zM716 548h4v5h-4zM792 548h4v5h-4zM689 553h4v1h-4z"/>
<path fill="#00d214" d="M716 326h62v5h-62zM841 326h8v5h-8zM716 331h62v4h-62zM845 331h4v4h-4zM716 335h22v5h-22zM760 335h18v5h-18zM809 335h14v5h-14zM845 335h4v5h-4zM711 340h23v5h-23zM765 340h13v5h-13zM796 340h27v5h-27zM849 340h5v5h-5zM716 345h13v5h-13zM769 345h27v5h-27zM818 345h9v5h-9zM849 345h5v5h-5zM716 350h9v5h-9zM769 350h23v5h-23zM823 350h9v5h-9zM849 350h9v5h-9zM716 355h9v5h-9zM769 355h18v5h-18zM827 355h5v5h-5zM854 355h4v5h-4zM716 360h9v4h-9zM769 360h14v4h-14zM827 360h5v4h-5zM858 360h5v4h-5zM769 364h14v5h-14zM827 364h5v5h-5zM863 364h4v5h-4zM769 369h14v5h-14zM827 369h5v5h-5zM867 369h5v5h-5zM769 374h18v5h-18zM827 374h5v5h-5zM872 374h5v5h-5zM765 379h22v5h-22zM823 379h4v5h-4zM734 384h8v5h-8zM751 384h41v5h-41zM818 384h9v5h-9zM729 389h5v4h-5zM769 389h23v4h-23zM814 389h4v4h-4zM783 393h9v5h-9zM809 393h5v5h-5zM725 398h4v5h-4zM787 398h22v5h-22zM720 403h5v5h-5zM774 403h9v5h-9zM716 408h4v5h-4zM760 408h23v5h-23zM711 413h5v5h-5zM751 413h5v5h-5zM783 413h4v5h-4zM707 418h4v4h-4zM747 418h4v4h-4zM783 418h4v4h-4zM702 422h5v5h-5zM787 422h5v5h-5zM698 427h4v5h-4zM792 427h4v5h-4zM693 432h5v5h-5zM796 432h4v5h-4zM689 437h4v5h-4zM800 437h5v5h-5zM689 442h4v5h-4zM809 442h9v5h-9zM689 447h9v4h-9zM796 447h4v4h-4zM809 447h9v4h-9zM698 451h4v5h-4zM738 451h4v5h-4zM792 451h4v5h-4zM702 461h5v5h-5zM742 461h5v5h-5zM787 461h5v5h-5zM747 466h4v5h-4zM787 466h5v5h-5zM707 471h4v5h-4zM751 471h5v5h-5zM751 476h5v4h-5zM751 480h5v5h-5zM707 495h4v5h-4zM707 500h4v5h-4zM783 505h4v4h-4zM711 509h5v5h-5zM747 514h9v5h-9zM778 514h5v5h-5zM751 519h14v5h-14zM774 519h9v5h-9zM680 524h4v5h-4zM751 524h18v5h-18zM774 524h9v5h-9zM684 529h5v5h-5zM689 534h4v4h-4zM689 538h4v5h-4zM689 543h4v5h-4zM729 543h13v5h-13zM792 543h4v5h-4zM689 548h4v5h-4zM720 548h5v5h-5zM742 548h5v5h-5zM684 553h5v1h-5zM716 553h4v1h-4zM742 553h5v1h-5z"/>
<path fill="#00cb2e" d="M778 326h63v5h-63zM778 331h67v4h-67zM778 335h31v5h-31zM823 335h22v5h-22zM778 340h18v5h-18zM823 340h26v5h-26zM827 345h22v5h-22zM832 350h17v5h-17zM832 355h4v5h-4zM845 355h9v5h-9zM832 360h4v4h-4zM849 360h9v4h-9zM832 364h4v5h-4zM854 364h9v5h-9zM832 369h4v5h-4zM858 369h9v5h-9zM832 374h4v5h-4zM867 374h5v5h-5zM827 379h9v5h-9zM872 379h5v5h-5zM742 384h9v5h-9zM827 384h5v5h-5zM872 384h5v5h-5zM734 389h4v4h-4zM751 389h18v4h-18zM818 389h14v4h-14zM867 389h10v4h-10zM729 393h5v5h-5zM760 393h23v5h-23zM814 393h13v5h-13zM863 393h14v5h-14zM765 398h22v5h-22zM809 398h18v5h-18zM858 398h19v5h-19zM725 403h4v5h-4zM760 403h14v5h-14zM783 403h44v5h-44zM854 403h23v5h-23zM751 408h9v5h-9zM783 408h53v5h-53zM849 408h28v5h-28zM747 413h4v5h-4zM787 413h5v5h-5zM805 413h72v5h-72zM742 418h5v4h-5zM787 418h5v4h-5zM805 418h72v4h-72zM738 422h4v5h-4zM792 422h4v5h-4zM805 422h72v5h-72zM796 427h81v5h-81zM698 432h4v5h-4zM800 432h77v5h-77zM693 437h9v5h-9zM734 437h4v5h-4zM805 437h72v5h-72zM693 442h9v5h-9zM800 442h9v5h-9zM818 442h59v5h-59zM698 447h4v4h-4zM800 447h9v4h-9zM818 447h59v4h-59zM796 451h4v5h-4zM805 451h72v5h-72zM702 456h5v5h-5zM738 456h4v5h-4zM792 456h4v5h-4zM809 456h68v5h-68zM792 461h4v5h-4zM809 461h68v5h-68zM707 466h4v5h-4zM742 466h5v5h-5zM814 466h63v5h-63zM747 471h4v5h-4zM787 471h5v5h-5zM814 471h63v5h-63zM747 476h4v4h-4zM787 476h5v4h-5zM814 476h63v4h-63zM711 480h5v5h-5zM787 480h5v5h-5zM814 480h63v5h-63zM787 485h5v5h-5zM814 485h63v5h-63zM787 490h5v5h-5zM814 490h63v5h-63zM818 495h59v5h-59zM818 500h59v5h-59zM711 505h5v4h-5zM747 505h4v4h-4zM818 505h59v4h-59zM716 509h13v5h-13zM738 509h13v5h-13zM783 509h4v5h-4zM823 509h54v5h-54zM823 514h54v5h-54zM823 519h54v5h-54zM823 524h54v5h-54zM680 529h4v5h-4zM783 529h4v5h-4zM823 529h54v5h-54zM684 534h5v4h-5zM787 534h5v4h-5zM684 538h5v5h-5zM792 538h4v5h-4zM684 543h5v5h-5zM680 548h9v5h-9zM725 548h17v5h-17zM796 548h4v5h-4zM680 553h4v1h-4zM720 553h22v1h-22zM796 553h4v1h-4z"/>
<path fill="#a0f500" d="M863 326h4v5h-4zM680 331h13v4h-13zM863 331h4v4h-4zM684 335h9v5h-9zM863 335h4v5h-4zM689 340h9v5h-9zM863 340h4v5h-4zM693 345h5v5h-5zM742 345h14v5h-14zM693 350h5v5h-5zM738 350h4v5h-4zM756 350h4v5h-4zM867 350h5v5h-5zM698 355h4v5h-4zM734 355h4v5h-4zM698 360h4v4h-4zM734 360h4v4h-4zM796 360h4v4h-4zM809 360h5v4h-5zM876 360h1v4h-1zM734 364h4v5h-4zM796 364h4v5h-4zM702 369h5v5h-5zM729 369h13v5h-13zM796 369h4v5h-4zM809 369h5v5h-5zM707 374h9v5h-9zM800 374h9v5h-9zM720 379h9v5h-9zM720 384h5v5h-5zM716 393h4v5h-4zM707 408h4v5h-4zM702 413h5v5h-5zM689 422h4v5h-4zM756 422h4v5h-4zM680 427h4v5h-4zM783 432h4v5h-4zM742 437h5v5h-5zM747 447h4v4h-4zM783 447h4v4h-4zM680 451h4v5h-4zM756 456h4v5h-4zM693 461h5v5h-5zM760 461h5v5h-5zM778 461h5v5h-5zM698 466h4v5h-4zM760 466h5v5h-5zM760 480h5v5h-5zM778 485h5v5h-5zM778 490h5v5h-5zM756 495h4v5h-4zM778 495h5v5h-5zM698 505h4v4h-4zM760 505h5v4h-5zM698 509h4v5h-4zM765 509h9v5h-9zM689 514h4v5h-4zM698 514h4v5h-4zM693 519h14v5h-14zM698 524h9v5h-9zM738 524h4v5h-4zM702 529h5v5h-5zM738 529h4v5h-4zM702 534h9v4h-9zM720 534h14v4h-14zM707 538h9v5h-9zM760 538h9v5h-9zM778 538h5v5h-5zM756 543h4v5h-4zM783 543h4v5h-4zM787 553h5v1h-5z"/>
<path fill="#d4f500" d="M867 326h5v5h-5zM867 331h5v4h-5zM867 335h5v5h-5zM867 340h5v5h-5zM680 345h4v5h-4zM684 350h5v5h-5zM747 350h4v5h-4zM872 350h4v5h-4zM684 355h9v5h-9zM742 355h5v5h-5zM751 355h5v5h-5zM689 360h4v4h-4zM742 360h5v4h-5zM751 360h5v4h-5zM689 364h9v5h-9zM742 364h14v5h-14zM693 369h5v5h-5zM698 374h4v5h-4zM698 379h13v5h-13zM707 384h9v5h-9zM707 389h9v4h-9zM707 393h9v5h-9zM707 398h4v5h-4zM702 403h5v5h-5zM698 408h9v5h-9zM693 413h5v5h-5zM689 418h4v4h-4zM680 422h4v5h-4zM765 422h9v5h-9zM756 427h4v5h-4zM747 437h4v5h-4zM747 442h4v5h-4zM751 447h5v4h-5zM778 447h5v4h-5zM756 451h4v5h-4zM778 451h5v5h-5zM680 456h4v5h-4zM765 456h4v5h-4zM774 456h4v5h-4zM689 461h4v5h-4zM765 461h13v5h-13zM693 466h5v5h-5zM765 466h9v5h-9zM769 471h5v5h-5zM698 476h4v4h-4zM769 476h5v4h-5zM698 480h4v5h-4zM765 480h4v5h-4zM698 485h4v5h-4zM774 485h4v5h-4zM760 490h5v5h-5zM680 500h4v5h-4zM693 500h5v5h-5zM760 500h5v5h-5zM774 500h4v5h-4zM684 505h14v4h-14zM765 505h9v4h-9zM720 524h9v5h-9zM716 529h18v5h-18zM760 543h5v5h-5zM783 548h4v5h-4zM756 553h4v1h-4z"/>
<path fill="#e6f000" d="M872 326h4v5h-4zM872 331h4v4h-4zM872 340h4v5h-4zM872 345h4v5h-4zM680 350h4v5h-4zM876 350h1v5h-1zM680 355h4v5h-4zM747 355h4v5h-4zM680 360h9v4h-9zM747 360h4v4h-4zM680 364h9v5h-9zM680 369h13v5h-13zM680 374h18v5h-18zM680 379h18v5h-18zM689 384h18v5h-18zM693 389h14v4h-14zM698 393h9v5h-9zM698 398h9v5h-9zM698 403h4v5h-4zM693 408h5v5h-5zM684 413h9v5h-9zM680 418h9v4h-9zM760 427h5v5h-5zM774 427h4v5h-4zM751 432h9v5h-9zM778 432h5v5h-5zM751 437h5v5h-5zM778 437h5v5h-5zM751 442h5v5h-5zM778 442h5v5h-5zM756 447h4v4h-4zM760 451h18v5h-18zM769 456h5v5h-5zM684 461h5v5h-5zM769 480h5v5h-5zM693 490h5v5h-5zM774 490h4v5h-4zM689 495h9v5h-9zM760 495h5v5h-5zM774 495h4v5h-4zM684 500h9v5h-9zM765 543h4v5h-4zM778 543h5v5h-5zM760 548h5v5h-5zM783 553h4v1h-4z"/>
<path fill="#f0e600" d="M876 326h1v5h-1zM876 331h1v4h-1zM872 335h5v5h-5zM876 340h1v5h-1zM876 345h1v5h-1zM680 384h9v5h-9zM680 389h13v4h-13zM689 393h9v5h-9zM693 398h5v5h-5zM689 403h9v5h-9zM680 408h13v5h-13zM680 413h4v5h-4zM765 427h9v5h-9zM760 432h5v5h-5zM756 437h4v5h-4zM756 442h9v5h-9zM760 447h18v4h-18zM689 466h4v5h-4zM693 471h5v5h-5zM693 485h5v5h-5zM765 485h9v5h-9zM689 490h4v5h-4zM680 495h9v5h-9zM765 500h9v5h-9zM769 543h9v5h-9zM760 553h5v1h-5z"/>
<path fill="#baf500" d="M680 335h4v5h-4zM680 340h9v5h-9zM684 345h9v5h-9zM867 345h5v5h-5zM689 350h4v5h-4zM742 350h5v5h-5zM751 350h5v5h-5zM693 355h5v5h-5zM738 355h4v5h-4zM756 355h4v5h-4zM872 355h5v5h-5zM693 360h5v4h-5zM738 360h4v4h-4zM756 360h4v4h-4zM800 360h9v4h-9zM698 364h4v5h-4zM738 364h4v5h-4zM756 364h4v5h-4zM800 364h14v5h-14zM698 369h4v5h-4zM742 369h14v5h-14zM800 369h9v5h-9zM702 374h5v5h-5zM711 379h9v5h-9zM716 384h4v5h-4zM716 389h4v4h-4zM711 398h5v5h-5zM707 403h4v5h-4zM698 413h4v5h-4zM693 418h5v4h-5zM684 422h5v5h-5zM760 422h5v5h-5zM774 422h4v5h-4zM751 427h5v5h-5zM778 427h5v5h-5zM747 432h4v5h-4zM783 437h4v5h-4zM783 442h4v5h-4zM751 451h5v5h-5zM684 456h5v5h-5zM760 456h5v5h-5zM778 456h5v5h-5zM774 466h4v5h-4zM698 471h4v5h-4zM765 471h4v5h-4zM774 471h4v5h-4zM765 476h4v4h-4zM774 476h4v4h-4zM774 480h4v5h-4zM760 485h5v5h-5zM698 490h4v5h-4zM698 495h4v5h-4zM698 500h4v5h-4zM680 505h4v4h-4zM774 505h4v4h-4zM684 509h14v5h-14zM693 514h5v5h-5zM707 524h13v5h-13zM729 524h9v5h-9zM707 529h9v5h-9zM734 529h4v5h-4zM711 534h9v4h-9zM769 538h9v5h-9zM756 548h4v5h-4z"/>
<path fill="#00c448" d="M836 355h9v5h-9zM836 360h13v4h-13zM836 364h18v5h-18zM836 369h22v5h-22zM836 374h5v5h-5zM854 374h13v5h-13zM836 379h5v5h-5zM858 379h14v5h-14zM832 384h9v5h-9zM858 384h14v5h-14zM738 389h13v4h-13zM832 389h4v4h-4zM858 389h9v4h-9zM751 393h9v5h-9zM827 393h9v5h-9zM854 393h9v5h-9zM729 398h5v5h-5zM756 398h9v5h-9zM827 398h9v5h-9zM849 398h9v5h-9zM751 403h9v5h-9zM827 403h27v5h-27zM720 408h5v5h-5zM747 408h4v5h-4zM836 408h13v5h-13zM716 413h4v5h-4zM742 413h5v5h-5zM792 413h13v5h-13zM711 418h5v4h-5zM738 418h4v4h-4zM792 418h13v4h-13zM707 422h4v5h-4zM796 422h9v5h-9zM702 427h5v5h-5zM734 427h4v5h-4zM702 432h5v5h-5zM734 432h4v5h-4zM702 437h5v5h-5zM702 442h5v5h-5zM734 442h4v5h-4zM702 447h5v4h-5zM734 447h4v4h-4zM702 451h5v5h-5zM734 451h4v5h-4zM800 451h5v5h-5zM734 456h4v5h-4zM796 456h13v5h-13zM707 461h4v5h-4zM738 461h4v5h-4zM796 461h4v5h-4zM805 461h4v5h-4zM738 466h4v5h-4zM792 466h4v5h-4zM805 466h9v5h-9zM711 471h5v5h-5zM742 471h5v5h-5zM792 471h4v5h-4zM809 471h5v5h-5zM711 476h5v4h-5zM792 476h4v4h-4zM809 476h5v4h-5zM747 480h4v5h-4zM792 480h4v5h-4zM805 480h9v5h-9zM711 485h5v5h-5zM747 485h4v5h-4zM792 485h4v5h-4zM805 485h9v5h-9zM711 490h5v5h-5zM747 490h4v5h-4zM805 490h9v5h-9zM711 495h5v5h-5zM747 495h4v5h-4zM787 495h5v5h-5zM809 495h9v5h-9zM711 500h5v5h-5zM747 500h4v5h-4zM787 500h5v5h-5zM809 500h9v5h-9zM742 505h5v4h-5zM787 505h5v4h-5zM814 505h4v4h-4zM729 509h9v5h-9zM814 509h9v5h-9zM783 514h4v5h-4zM814 514h9v5h-9zM783 519h4v5h-4zM818 519h5v5h-5zM783 524h4v5h-4zM818 524h5v5h-5zM787 529h5v5h-5zM818 529h5v5h-5zM680 534h4v4h-4zM818 534h59v4h-59zM680 538h4v5h-4zM818 538h59v5h-59zM680 543h4v5h-4zM796 543h4v5h-4zM818 543h59v5h-59zM800 548h5v5h-5zM818 548h59v5h-59zM800 553h5v1h-5zM818 553h59v1h-59z"/>
<path fill="#00c263" d="M841 374h13v5h-13zM841 379h17v5h-17zM841 384h17v5h-17zM836 389h22v4h-22zM734 393h17v5h-17zM836 393h18v5h-18zM734 398h4v5h-4zM747 398h9v5h-9zM836 398h13v5h-13zM729 403h5v5h-5zM747 403h4v5h-4zM725 408h9v5h-9zM742 408h5v5h-5zM734 413h8v5h-8zM734 418h4v4h-4zM734 422h4v5h-4zM707 447h4v4h-4zM707 451h4v5h-4zM707 456h4v5h-4zM711 461h5v5h-5zM729 461h9v5h-9zM800 461h5v5h-5zM711 466h9v5h-9zM729 466h9v5h-9zM796 466h9v5h-9zM716 471h4v5h-4zM729 471h13v5h-13zM796 471h13v5h-13zM716 476h9v4h-9zM738 476h9v4h-9zM796 476h13v4h-13zM716 480h4v5h-4zM742 480h5v5h-5zM796 480h9v5h-9zM716 485h4v5h-4zM796 485h9v5h-9zM792 490h13v5h-13zM792 495h17v5h-17zM742 500h5v5h-5zM792 500h4v5h-4zM800 500h9v5h-9zM716 505h13v4h-13zM738 505h4v4h-4zM805 505h9v4h-9zM787 509h5v5h-5zM809 509h5v5h-5zM787 514h5v5h-5zM809 514h5v5h-5zM787 519h5v5h-5zM809 519h9v5h-9zM787 524h5v5h-5zM809 524h9v5h-9zM792 529h4v5h-4zM809 529h9v5h-9zM792 534h4v4h-4zM809 534h9v4h-9zM796 538h22v5h-22zM800 543h18v5h-18zM805 548h13v5h-13zM805 553h13v1h-13z"/>
<path fill="#f7d900" d="M680 393h9v5h-9zM680 398h13v5h-13zM680 403h9v5h-9zM765 432h13v5h-13zM760 437h9v5h-9zM774 437h4v5h-4zM765 442h13v5h-13zM680 461h4v5h-4zM684 466h5v5h-5zM693 476h5v4h-5zM693 480h5v5h-5zM689 485h4v5h-4zM680 490h9v5h-9zM765 490h9v5h-9zM765 495h9v5h-9zM765 548h4v5h-4zM778 548h5v5h-5zM778 553h5v1h-5z"/>
<path fill="#00c57f" d="M738 398h9v5h-9zM734 403h13v5h-13zM734 408h8v5h-8zM720 413h14v5h-14zM716 418h4v4h-4zM711 422h5v5h-5zM707 427h4v5h-4zM707 432h4v5h-4zM707 437h4v5h-4zM707 442h4v5h-4zM729 442h5v5h-5zM729 447h5v4h-5zM711 451h5v5h-5zM729 451h5v5h-5zM711 456h9v5h-9zM725 456h9v5h-9zM716 461h13v5h-13zM720 466h9v5h-9zM720 471h9v5h-9zM725 476h13v4h-13zM720 480h22v5h-22zM720 485h9v5h-9zM742 485h5v5h-5zM716 490h9v5h-9zM742 490h5v5h-5zM716 495h4v5h-4zM742 495h5v5h-5zM716 500h9v5h-9zM738 500h4v5h-4zM796 500h4v5h-4zM729 505h9v4h-9zM792 505h13v4h-13zM792 509h17v5h-17zM792 514h4v5h-4zM800 514h9v5h-9zM792 519h4v5h-4zM800 519h9v5h-9zM792 524h4v5h-4zM800 524h9v5h-9zM796 529h13v5h-13zM796 534h13v4h-13z"/>
<path fill="#00c7af" d="M720 418h9v4h-9zM716 422h4v5h-4zM711 427h5v5h-5zM729 427h5v5h-5zM729 432h5v5h-5zM711 437h5v5h-5zM711 442h5v5h-5zM716 447h13v4h-13zM729 495h9v5h-9z"/>
<path fill="#00c89b" d="M729 418h5v4h-5zM729 422h5v5h-5zM729 437h5v5h-5zM711 447h5v4h-5zM716 451h13v5h-13zM720 456h5v5h-5zM729 485h13v5h-13zM725 490h17v5h-17zM720 495h9v5h-9zM738 495h4v5h-4zM725 500h13v5h-13zM796 514h4v5h-4zM796 519h4v5h-4zM796 524h4v5h-4z"/>
<path fill="#00bddf" d="M720 422h5v5h-5zM716 432h4v5h-4zM720 437h5v5h-5z"/>
<path fill="#00c6d7" d="M725 422h4v5h-4zM716 427h4v5h-4zM716 437h4v5h-4zM725 437h4v5h-4zM720 442h5v5h-5z"/>
<path fill="#00aaf0" d="M720 427h5v5h-5zM720 432h5v5h-5z"/>
<path fill="#00b3e8" d="M725 427h4v5h-4zM725 432h4v5h-4z"/>
<path fill="#00c7c3" d="M711 432h5v5h-5zM716 442h4v5h-4zM725 442h4v5h-4z"/>
<path fill="#fbc900" d="M769 437h5v5h-5zM680 466h4v5h-4zM689 471h4v5h-4zM689 480h4v5h-4zM684 485h5v5h-5zM769 548h9v5h-9zM765 553h13v1h-13z"/>
<path fill="#fba900" d="M680 471h4v5h-4zM684 476h5v4h-5zM680 480h9v5h-9z"/>
<path fill="#ffb900" d="M684 471h5v5h-5zM689 476h4v4h-4zM680 485h4v5h-4z"/>
<path fill="#f79900" d="M680 476h4v4h-4z"/>
</g>
<polygon points="878.0,394.0 876.7,394.3 871.1,395.7 865.5,397.2 861.1,400.0 855.4,403.6 849.8,408.7 846.5,412.6 842.0,414.3 836.4,416.5 833.0,419.9 830.2,425.5 828.0,431.6 826.3,432.4 824.3,431.6 823.6,426.6 823.8,421.0 822.9,418.2 821.8,417.4 820.1,418.8 818.5,422.1 817.3,428.8 815.9,434.4 816.8,438.9 818.3,443.4 817.8,449.0 815.0,454.0 812.6,459.0 811.0,466.0 812.5,472.0 815.5,479.0 818.5,484.0 823.4,491.4 826.4,497.5 825.4,505.5 821.5,509.0 818.3,510.6 815.3,511.6 817.3,517.6 822.4,527.7 825.4,541.8 831.4,550.9 834.5,558.0 877.5,557.5 877.5,394.0" fill="#fdcb98" stroke="none"/>
<polyline points="878.0,394.0 876.7,394.3 871.1,395.7 865.5,397.2 861.1,400.0 855.4,403.6 849.8,408.7 846.5,412.6 842.0,414.3 836.4,416.5 833.0,419.9 830.2,425.5 828.0,431.6 826.3,432.4 824.3,431.6 823.6,426.6 823.8,421.0 822.9,418.2 821.8,417.4 820.1,418.8 818.5,422.1 817.3,428.8 815.9,434.4 816.8,438.9 818.3,443.4 817.8,449.0 815.0,454.0 812.6,459.0 811.0,466.0 812.5,472.0 815.5,479.0 818.5,484.0 823.4,491.4 826.4,497.5 825.4,505.5 821.5,509.0 818.3,510.6 815.3,511.6 817.3,517.6 822.4,527.7 825.4,541.8 831.4,550.9 834.5,558.0" fill="none" stroke="#000" stroke-width="1.1"/>
<polyline points="878.0,365.3 870.0,366.5 862.7,368.3 855.0,371.5 848.6,375.4 843.5,380.0 840.9,384.0 837.5,389.6 835.3,395.2 834.1,404.2 829.1,407.5 824.5,412.0 820.1,416.5 818.5,421.0 815.7,428.8 812.8,435.6 810.1,444.7 804.8,452.7 798.0,460.8 793.3,468.9 791.3,480.8 791.3,491.8 794.0,502.5 798.0,513.3 803.4,525.4 807.5,534.8 811.5,544.2 814.2,553.6 815.5,558.0" fill="none" stroke="#000" stroke-width="1"/>
<polyline points="876.7,394.7 871.1,396.1 865.5,397.6 861.1,400.4 855.4,404.0 849.8,409.1 846.5,413.0 842.0,414.7 836.4,416.9 833.0,420.3 830.2,425.9" fill="none" stroke="#000" stroke-width="1.9" stroke-dasharray="3 1.5 1.5 2 4 1"/>
<path d="M810.5 504l3 2 3 4.5-1.5.5-4-3z" fill="#fdcb98" stroke="#000" stroke-width="0.7"/>
<path d="M807 498.5l1.8 1 2.6 8-1.4.6-2.2-4.5z" fill="#000"/>
<path d="M812 490.4l2.6 3.4 2.5 4.2 2.5 4.2-1.6 1.8-3.4-4.3-2.6-5.1z" fill="#fdcb98" stroke="#000" stroke-width="0.8"/>
<path d="M806.1 475.2l-.8 10M802.7 489.6l2.5 5.5 2.6 5.4" stroke="#000" stroke-width="1" fill="none"/>
<path d="M848.6 389.5l-.6 4.5M845.8 396.5l-1.2 3.5M814.3 546l2 1.5M815.8 551.5l2 1" stroke="#000" stroke-width="1.3" fill="none"/>
<circle cx="778.3" cy="441.3" r="5" fill="none" stroke="#000" stroke-width="1.1"/>
<text x="714.5" y="573.6" font-size="12" text-anchor="middle" textLength="20" lengthAdjust="spacingAndGlyphs">108</text>
<text x="750.5" y="573.6" font-size="12" text-anchor="middle" textLength="20" lengthAdjust="spacingAndGlyphs">110</text>
<text x="785.5" y="573.6" font-size="12" text-anchor="middle" textLength="20" lengthAdjust="spacingAndGlyphs">112</text>
<text x="821.5" y="573.6" font-size="12" text-anchor="middle" textLength="20" lengthAdjust="spacingAndGlyphs">114</text>
<text x="857.5" y="573.6" font-size="12" text-anchor="middle" textLength="20" lengthAdjust="spacingAndGlyphs">116</text>
<text x="673.5" y="347.8" font-size="12" text-anchor="end" textLength="18.3" lengthAdjust="spacingAndGlyphs">-18</text>
<text x="673.5" y="386.8" font-size="12" text-anchor="end" textLength="18.3" lengthAdjust="spacingAndGlyphs">-20</text>
<text x="673.5" y="425.8" font-size="12" text-anchor="end" textLength="18.3" lengthAdjust="spacingAndGlyphs">-22</text>
<text x="673.5" y="463.8" font-size="12" text-anchor="end" textLength="18.3" lengthAdjust="spacingAndGlyphs">-24</text>
<text x="673.5" y="502.8" font-size="12" text-anchor="end" textLength="18.3" lengthAdjust="spacingAndGlyphs">-26</text>
<text x="673.5" y="541.8" font-size="12" text-anchor="end" textLength="18.3" lengthAdjust="spacingAndGlyphs">-28</text>
<path d="M679 325h199v1h-199zM679 557h199v1h-199zM679 325h1v233h-1zM877 325h1v233h-1zM714 322h1v3h-1zM714 558h1v3h-1zM750 322h1v3h-1zM750 558h1v3h-1zM785 322h1v3h-1zM785 558h1v3h-1zM821 322h1v3h-1zM821 558h1v3h-1zM857 322h1v3h-1zM857 558h1v3h-1zM676 344h3v1h-3zM878 344h3v1h-3zM676 383h3v1h-3zM878 383h3v1h-3zM676 422h3v1h-3zM878 422h3v1h-3zM676 460h3v1h-3zM878 460h3v1h-3zM676 499h3v1h-3zM878 499h3v1h-3zM676 538h3v1h-3zM878 538h3v1h-3z" fill="#000" stroke="none" shape-rendering="crispEdges"/>
<text x="692.5" y="31.8" font-size="12" text-anchor="start" textLength="169" lengthAdjust="spacingAndGlyphs">AMSR-E SST: 24.3 Argo: NaN</text>
<text x="690.6" y="315.8" font-size="12" text-anchor="start" textLength="173" lengthAdjust="spacingAndGlyphs">Altimetric SLA: 0.21 Argo: NaN</text>
<text transform="translate(895,547) rotate(-90)" font-size="12" textLength="167.5" lengthAdjust="spacingAndGlyphs">CSIRO 22-Dec-2009 10:30:38</text>
</svg></body></html>
